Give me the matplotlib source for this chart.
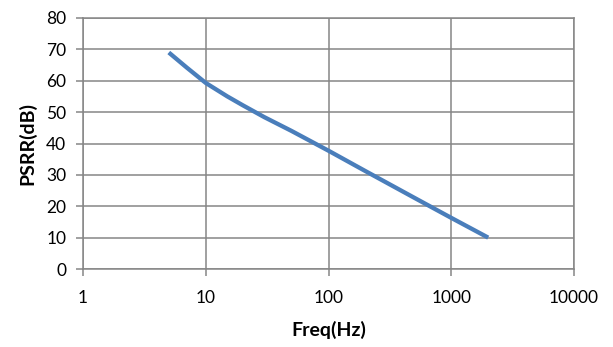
import matplotlib
matplotlib.use("Agg")
import matplotlib.pyplot as plt
from matplotlib.ticker import FixedLocator, FixedFormatter, NullLocator

# PSRR vs frequency
FREQ = [5, 7, 10, 15, 20, 30, 50, 100, 200, 500, 1000, 2000]
PSRR = [69, 64.2, 59.3, 55.0, 52.2, 48.4, 44.0, 37.7, 31.2, 22.7, 16.3, 10]

XTICKS = [1, 10, 100, 1000, 10000]
XTICK_LABELS = ["1", "10", "100", "1000", "10000"]
YTICKS = [0, 10, 20, 30, 40, 50, 60, 70, 80]

GRID = "#868686"
BLUE = "#4a7ebb"
FONT = ["Lato", "DejaVu Sans"]


def main():
    plt.rcParams["font.family"] = FONT
    fig = plt.figure(figsize=(6.13, 3.47), dpi=100)
    ax = fig.add_axes([83 / 613, 1 - 269 / 347, (574 - 83) / 613, (269 - 18) / 347])

    ax.plot(FREQ, PSRR, color=BLUE, linewidth=3.1, solid_capstyle="butt",
            solid_joinstyle="round", zorder=3)

    ax.set_xscale("log")
    ax.set_xlim(1, 10000)
    ax.set_ylim(0, 80)
    ax.xaxis.set_major_locator(FixedLocator(XTICKS))
    ax.xaxis.set_major_formatter(FixedFormatter(XTICK_LABELS))
    ax.xaxis.set_minor_locator(NullLocator())
    ax.set_yticks(YTICKS)

    ax.grid(True, color=GRID, linewidth=1.1, zorder=1)
    for s in ax.spines.values():
        s.set_color(GRID)
        s.set_linewidth(1.1)
    ax.tick_params(axis="both", colors=GRID, length=5, width=1.1,
                   labelcolor="black", labelsize=12.5)
    ax.tick_params(axis="x", pad=10)
    ax.tick_params(axis="y", pad=7)

    ax.set_xlabel("Freq(Hz)", fontsize=14, fontweight="bold", labelpad=11)
    ax.set_ylabel("PSRR(dB)", fontsize=14, fontweight="bold", labelpad=7)

    fig.savefig("out.png", dpi=100)
    plt.close(fig)


if __name__ == "__main__":
    main()
